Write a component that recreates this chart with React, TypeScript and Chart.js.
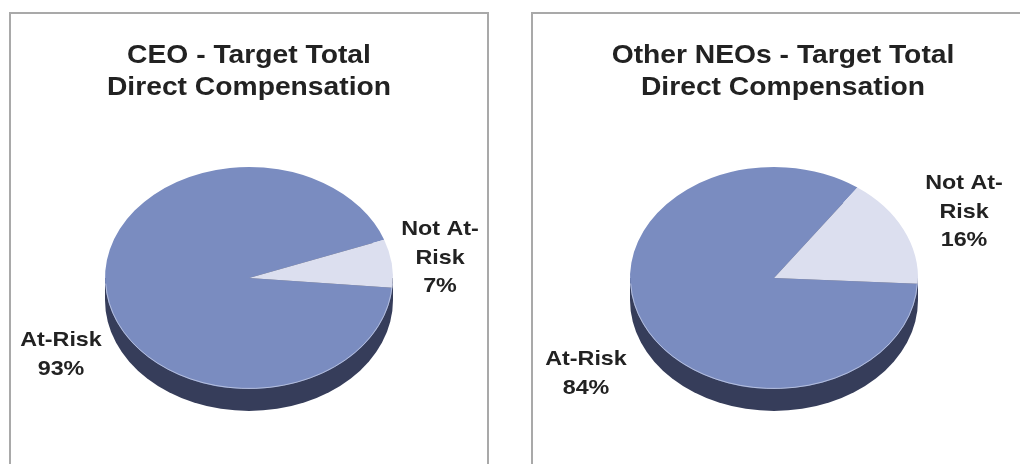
import React, { useEffect, useRef } from "react";
import { Chart, registerables } from "chart.js";

Chart.register(...registerables);

// ---- data ----
const categories = ["At-Risk", "Not At-Risk"];
const categoryLines = [["At-Risk"], ["Not At-", "Risk"]];
const ceoValues = [93, 7];
const neoValues = [84, 16];
const ceoTitle = ["CEO - Target Total", "Direct Compensation"];
const neoTitle = ["Other NEOs - Target Total", "Direct Compensation"];

const COLORS = ["#7a8cc0", "#dcdfef"];
const SIDE = "#363d5a";
const TEXT = "#222222";
const FONT = '"Liberation Sans", Arial, Helvetica, sans-serif';

const RADIUS = 144;
const TILT = 111 / 144;
const DEPTH = 22;

type PanelCfg = {
  values: number[];
  title: string[];
  rotation: number;
  pad: { left: number; right: number; top: number; bottom: number };
  titleX: number;
  titleY: number[];
  labelOffsets: { dx: number; dy: number }[];
};

const pie3d = {
  id: "pie3d",
  beforeDatasetsDraw(chart: any) {
    const meta = chart.getDatasetMeta(0);
    const arc = meta.data[0];
    if (!arc) return;
    const { x, y, outerRadius } = arc.getProps(["x", "y", "outerRadius"], true);
    const ctx = chart.ctx;
    const vr = outerRadius * TILT;
    ctx.save();
    ctx.fillStyle = SIDE;
    ctx.beginPath();
    ctx.ellipse(x, y + DEPTH, outerRadius, vr, 0, 0, Math.PI * 2);
    ctx.fill();
    ctx.fillRect(x - outerRadius, y, outerRadius * 2, DEPTH);
    ctx.restore();
    ctx.save();
    ctx.translate(x, y);
    ctx.scale(1, TILT);
    ctx.translate(-x, -y);
  },
  afterDatasetsDraw(chart: any) {
    const ctx = chart.ctx;
    ctx.restore();
    const arc = chart.getDatasetMeta(0).data[0];
    if (!arc) return;
    const { x, y, outerRadius } = arc.getProps(["x", "y", "outerRadius"], true);
    ctx.save();
    ctx.strokeStyle = "rgba(205,212,235,0.7)";
    ctx.lineWidth = 1;
    ctx.beginPath();
    ctx.ellipse(x, y, outerRadius - 0.5, outerRadius * TILT - 0.5, 0, 0.05, Math.PI - 0.05);
    ctx.stroke();
    ctx.restore();
  },
  afterDraw(chart: any, _args: any, opts: any) {
    const ctx = chart.ctx;
    const arc0 = chart.getDatasetMeta(0).data[0];
    if (!arc0) return;
    const { x, y } = arc0.getProps(["x", "y"], true);
    ctx.save();
    ctx.fillStyle = TEXT;
    ctx.textAlign = "center";
    ctx.textBaseline = "alphabetic";
    // title
    ctx.font = `bold 25px ${FONT}`;
    (opts.title as string[]).forEach((line, i) => {
      ctx.save();
      ctx.translate(opts.titleX, opts.titleY[i]);
      ctx.scale(1.13, 1);
      ctx.fillText(line, 0, 0);
      ctx.restore();
    });
    // slice labels
    ctx.font = `bold 21px ${FONT}`;
    const data = chart.data.datasets[0].data as number[];
    data.forEach((v, i) => {
      const off = opts.labelOffsets[i];
      const lines = [...categoryLines[i], `${v}%`];
      lines.forEach((line, j) => {
        ctx.save();
        ctx.translate(x + off.dx, y + off.dy + j * 28.7);
        ctx.scale(1.11, 1);
        ctx.fillText(line, 0, 0);
        ctx.restore();
      });
    });
    ctx.restore();
  },
};

function PieChart({ cfg }: { cfg: PanelCfg }) {
  const ref = useRef<HTMLCanvasElement>(null);
  useEffect(() => {
    if (!ref.current) return;
    const chart = new Chart(ref.current, {
      type: "pie",
      data: {
        labels: categories,
        datasets: [
          {
            data: cfg.values,
            backgroundColor: COLORS,
            borderWidth: 0,
            radius: RADIUS,
          } as any,
        ],
      },
      options: {
        animation: false,
        responsive: false,
        events: [],
        rotation: cfg.rotation,
        layout: { padding: cfg.pad },
        plugins: {
          legend: { display: false },
          title: { display: false },
          tooltip: { enabled: false },
          pie3d: {
            title: cfg.title,
            titleX: cfg.titleX,
            titleY: cfg.titleY,
            labelOffsets: cfg.labelOffsets,
          },
        } as any,
      },
      plugins: [pie3d],
    });
    return () => chart.destroy();
  }, [cfg]);
  return (
    <canvas
      ref={ref}
      width={1020}
      height={464}
      style={{ position: "absolute", left: 0, top: 0, width: 1020, height: 464 }}
    />
  );
}

const ceoCfg: PanelCfg = {
  values: ceoValues,
  title: ceoTitle,
  rotation: 95,
  pad: { left: 105, right: 1020 - 393, top: 278 - 144, bottom: 464 - 422 },
  titleX: 249,
  titleY: [63, 95],
  labelOffsets: [
    { dx: -188, dy: 68 },
    { dx: 191, dy: -43 },
  ],
};

const neoCfg: PanelCfg = {
  values: neoValues,
  title: neoTitle,
  rotation: 93,
  pad: { left: 630, right: 1020 - 918, top: 278 - 144, bottom: 464 - 422 },
  titleX: 783,
  titleY: [63, 95],
  labelOffsets: [
    { dx: -188, dy: 87 },
    { dx: 190, dy: -89 },
  ],
};

export default function App() {
  const panel: React.CSSProperties = {
    position: "absolute",
    top: 12,
    height: 480,
    boxSizing: "border-box",
    border: "2px solid #a9a9a9",
    background: "#fff",
  };
  return (
    <div
      style={{
        position: "fixed",
        left: 0,
        top: 0,
        width: 1020,
        height: 464,
        overflow: "hidden",
        background: "#fff",
      }}
    >
      <div style={{ ...panel, left: 9, width: 480 }} />
      <div style={{ ...panel, left: 531, width: 520 }} />
      <PieChart cfg={ceoCfg} />
      <PieChart cfg={neoCfg} />
    </div>
  );
}
